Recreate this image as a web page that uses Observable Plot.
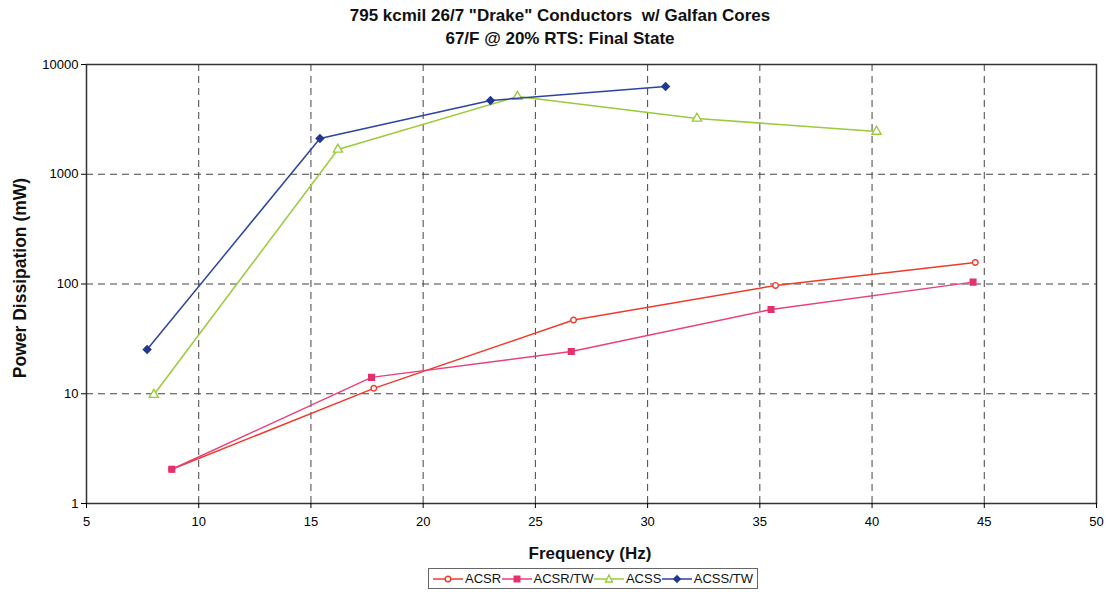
<!DOCTYPE html>
<html>
<head>
<meta charset="utf-8">
<script src="https://cdn.jsdelivr.net/npm/d3@7"></script>
<script src="https://cdn.jsdelivr.net/npm/@observablehq/plot@0.6"></script>
<style>
  html, body { margin: 0; padding: 0; background: #fff; }
  #wrap { position: relative; width: 1106px; height: 595px; font-family: "Liberation Sans", Arial, sans-serif; color: #111; }
  #wrap > svg { position: absolute; left: 0; top: 0; }
  .title { position: absolute; left: 0; width: 1120px; text-align: center; font-weight: bold; font-size: 17px; }
  .xlabel { position: absolute; left: 90px; width: 1000px; top: 544px; text-align: center; font-weight: bold; font-size: 17px; }
  .ylabel { position: absolute; left: 20px; top: 278px; transform: translate(-50%, -50%) rotate(-90deg); white-space: nowrap; font-weight: bold; font-size: 17.5px; }
  #legend { position: absolute; left: 428px; top: 568px; width: 330px; height: 21px; border: 1px solid #666; display: flex; align-items: center; justify-content: space-between; padding: 0 4px; font-size: 13px; background: #fff; box-sizing: border-box; }
  #legend .item { display: flex; align-items: center; gap: 2px; }
  #legend svg { display: block; }
</style>
</head>
<body>
<div id="wrap">
  <div class="title" style="top:6px">795 kcmil 26/7 "Drake" Conductors&nbsp; w/ Galfan Cores</div>
  <div class="title" style="top:29px">67/F @ 20% RTS: Final State</div>
  <div class="ylabel">Power Dissipation (mW)</div>
  <div class="xlabel">Frequency (Hz)</div>
  <div id="legend"></div>
</div>
<script>
// ---- data ----
const seriesNames = ["ACSR", "ACSR/TW", "ACSS", "ACSS/TW"];
const acsrFreq   = [8.8, 17.8, 26.7, 35.7, 44.6];
const acsrPower  = [2.05, 11.2, 47, 97, 157];
const acsrtwFreq  = [8.8, 17.7, 26.6, 35.5, 44.5];
const acsrtwPower = [2.05, 14.1, 24.3, 58.6, 104];
const acssFreq   = [8.0, 16.2, 24.2, 32.2, 40.2];
const acssPower  = [9.8, 1680, 5100, 3220, 2450];
const acsstwFreq  = [7.7, 15.4, 23.0, 30.8];
const acsstwPower = [25.3, 2120, 4700, 6300];
const xTicks = [5, 10, 15, 20, 25, 30, 35, 40, 45, 50];
const yTicks = [1, 10, 100, 1000, 10000];

const colors = {"ACSR": "#ee3b2c", "ACSR/TW": "#e6306e", "ACSS": "#9acb3a", "ACSS/TW": "#22388f"};
const lineColors = {"ACSR": "#ee3b2c", "ACSR/TW": "#e8407a", "ACSS": "#9acb3a", "ACSS/TW": "#2c44a0"};
const symbols = {"ACSR": "circle", "ACSR/TW": "square", "ACSS": "triangle", "ACSS/TW": "square"};
const rotates = {"ACSR": 0, "ACSR/TW": 0, "ACSS": 0, "ACSS/TW": 45};
const fills = {"ACSR": "#fff", "ACSR/TW": "#e6306e", "ACSS": "#fff", "ACSS/TW": "#22388f"};
const radii = {"ACSR": 2.8, "ACSR/TW": 3.2, "ACSS": 3.4, "ACSS/TW": 3.0};

const rows = [];
const add = (name, xs, ys) => xs.forEach((x, i) => rows.push({series: name, f: x, p: ys[i]}));
add("ACSR", acsrFreq, acsrPower);
add("ACSR/TW", acsrtwFreq, acsrtwPower);
add("ACSS", acssFreq, acssPower);
add("ACSS/TW", acsstwFreq, acsstwPower);

const seriesMarks = seriesNames.flatMap(name => {
  const d = rows.filter(r => r.series === name);
  return [
    Plot.line(d, {x: "f", y: "p", stroke: lineColors[name], strokeWidth: 1.5}),
    Plot.dot(d, {x: "f", y: "p", symbol: () => symbols[name], rotate: rotates[name], stroke: colors[name], fill: fills[name],
      r: radii[name], strokeWidth: 1.4})
  ];
});

const chart = Plot.plot({
  width: 1106, height: 595,
  marginTop: 64, marginBottom: 92, marginLeft: 86, marginRight: 10,
  style: {fontFamily: '"Liberation Sans", Arial, sans-serif', fontSize: "13px", color: "#000", background: "transparent"},
  x: {domain: [5, 50], label: null},
  y: {type: "log", domain: [1, 10000], label: null},
  symbol: {domain: ["circle", "square", "triangle"], range: ["circle", "square", "triangle"]},
  marks: [
    Plot.gridX(xTicks.slice(1, -1), {stroke: "#444", strokeOpacity: 1, strokeDasharray: "7,5"}),
    Plot.gridY([10, 100, 1000], {stroke: "#444", strokeOpacity: 1, strokeDasharray: "7,5"}),
    Plot.frame({stroke: "#333", strokeWidth: 1.5}),
    Plot.axisX(xTicks, {tickSize: 5, tickPadding: 8, label: null, fontSize: 13}),
    Plot.axisY(yTicks, {tickSize: 5, tickPadding: 3, label: null, tickFormat: d => String(d), fontSize: 13}),
    ...seriesMarks
  ]
});
document.getElementById("wrap").prepend(chart);

// legend
const legend = document.getElementById("legend");
const symPath = {
  "ACSR": '<circle cx="15" cy="6" r="2.8" fill="#fff" stroke="COL" stroke-width="1.4"/>',
  "ACSR/TW": '<rect x="11.5" y="2.5" width="7" height="7" fill="COL"/>',
  "ACSS": '<path d="M15,2 L18.5,9 L11.5,9 Z" fill="#fff" stroke="COL" stroke-width="1.4"/>',
  "ACSS/TW": '<path d="M15,1.8 L19.2,6 L15,10.2 L10.8,6 Z" fill="COL"/>'
};
seriesNames.forEach(name => {
  const c = colors[name];
  const item = document.createElement("div");
  item.className = "item";
  item.innerHTML = `<svg width="30" height="12"><line x1="0" y1="6" x2="30" y2="6" stroke="${lineColors[name]}" stroke-width="1.5"/>${symPath[name].replace(/COL/g, c)}</svg><span>${name}</span>`;
  legend.appendChild(item);
});
</script>
</body>
</html>
